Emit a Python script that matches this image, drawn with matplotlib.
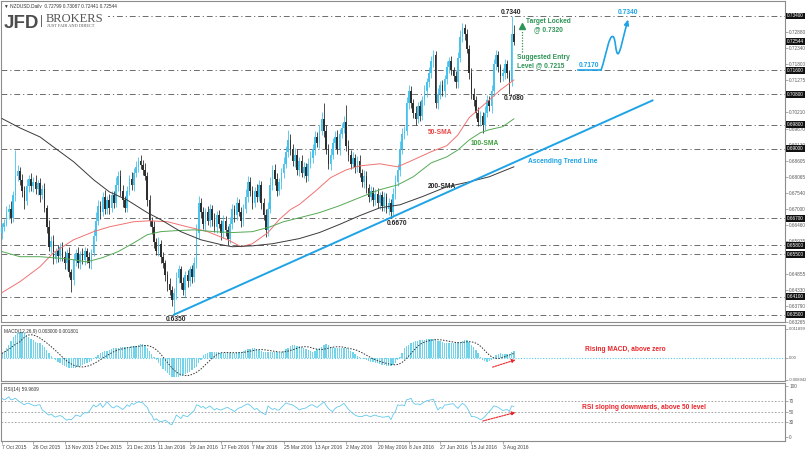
import numpy as np
import pandas as pd
import matplotlib
matplotlib.use("Agg")
import matplotlib.pyplot as plt
from matplotlib.path import Path
from matplotlib.patches import PathPatch, Rectangle
import matplotlib.transforms as mtransforms

plt.rcParams['font.family'] = ['Liberation Sans', 'DejaVu Sans']

# ---------------- data ----------------
date_labels = ["7 Oct 2015", "26 Oct 2015", "13 Nov 2015", "2 Dec 2015", "21 Dec 2015",
               "11 Jan 2016", "29 Jan 2016", "17 Feb 2016", "7 Mar 2016", "25 Mar 2016",
               "13 Apr 2016", "2 May 2016", "20 May 2016", "8 Jun 2016", "27 Jun 2016",
               "15 Jul 2016", "3 Aug 2016"]
label_step = 14  # bars between date labels

# daily closes in pips (x 1e-4), open = previous close
first_open = 6620
close_pips = [
    6640, 6655, 6690, 6700, 6670, 6745, 6810, 6825, 6795, 6760,
    6725, 6775, 6800, 6775, 6790, 6765, 6785, 6745, 6765, 6705,
    6640, 6575, 6595, 6535, 6560, 6545, 6575, 6540, 6520, 6555,
    6490, 6465, 6530, 6555, 6520, 6550, 6530, 6560, 6540, 6520,
    6555, 6610, 6660, 6710, 6690, 6740, 6700, 6730, 6705, 6745,
    6720, 6780, 6810, 6760, 6730, 6705, 6760, 6800, 6780, 6820,
    6840, 6860, 6845, 6830, 6810, 6730, 6660, 6640, 6590, 6560,
    6585, 6540, 6520, 6480, 6450, 6430, 6400, 6420, 6470, 6500,
    6455, 6430, 6480, 6460, 6500, 6475, 6520, 6620, 6720, 6690,
    6650, 6690, 6660, 6700, 6665, 6640, 6680, 6650, 6620, 6660,
    6630, 6600, 6650, 6700, 6680, 6720, 6690, 6660, 6700, 6740,
    6790, 6760, 6720, 6760, 6740, 6780, 6720, 6680, 6630, 6700,
    6780, 6830, 6800, 6760, 6790, 6820, 6850, 6890, 6930, 6900,
    6860, 6880, 6830, 6860, 6820, 6840, 6810, 6850, 6870, 6900,
    6940, 6920, 6960, 7000, 6960, 6900, 6850, 6880, 6920, 6940,
    6900, 6950, 6970, 6990, 6910, 6880, 6850, 6870, 6840, 6860,
    6820, 6790, 6810, 6770, 6740, 6760, 6730, 6750, 6720, 6745,
    6710, 6740, 6700, 6720, 6690, 6750, 6790, 6830, 6900, 6950,
    6960, 7050, 7090, 7050, 7020, 7000, 7040, 7010, 7060, 7090,
    7120, 7150, 7190, 7210, 7050, 7080, 7110, 7090, 7130, 7170,
    7190, 7160, 7140, 7120, 7200, 7270, 7300, 7280, 7230, 7150,
    7080, 7060, 7020, 6990, 7010, 6980, 7020, 7060, 7040, 7090,
    7180, 7210, 7170, 7140, 7150, 7180, 7150, 7125, 7280, 7254,
]
# upper / lower shadows in pips
wick_up = [
    15, 12, 20, 18, 25, 14, 86, 20, 15, 22, 18, 25, 12, 20, 15, 22, 12, 18, 14, 20,
    10, 25, 15, 18, 12, 20, 14, 16, 22, 12, 18, 10, 20, 14, 18, 12, 22, 15, 12, 18,
    14, 25, 30, 20, 18, 15, 22, 12, 20, 16, 14, 25, 15, 18, 20, 12, 16, 14, 22, 15,
    18, 13, 20, 16, 22, 14, 18, 12, 20, 15, 22, 14, 18, 12, 16, 20, 14, 18, 22, 15,
    12, 20, 14, 18, 12, 16, 20, 30, 22, 15, 18, 14, 20, 16, 12, 22, 15, 18, 12, 20,
    16, 14, 22, 18, 15, 20, 12, 16, 18, 25, 20, 15, 18, 12, 22, 16, 14, 18, 20, 22,
    25, 15, 18, 20, 14, 16, 22, 18, 33, 20, 15, 22, 18, 14, 20, 16, 12, 18, 22, 15,
    18, 14, 20, 22, 52, 18, 15, 20, 14, 18, 22, 16, 14, 20, 55, 18, 15, 20, 14, 16,
    18, 14, 20, 15, 12, 18, 14, 16, 20, 12, 15, 18, 12, 16, 14, 20, 22, 18, 25, 20,
    15, 20, 22, 18, 14, 20, 16, 18, 14, 20, 16, 22, 18, 18, 15, 20, 14, 18, 16, 20,
    14, 18, 12, 16, 20, 22, 17, 15, 18, 14, 16, 20, 14, 18, 15, 12, 20, 18, 14, 22,
    18, 16, 14, 12, 16, 18, 14, 12, 60, 29,
]
wick_dn = [
    18, 14, 10, 22, 15, 12, 20, 16, 14, 20, 25, 12, 18, 15, 20, 14, 18, 22, 12, 16,
    20, 15, 22, 18, 14, 20, 16, 12, 18, 22, 14, 39, 16, 20, 14, 18, 12, 16, 20, 15,
    18, 12, 16, 14, 22, 12, 18, 15, 20, 14, 16, 12, 20, 18, 22, 16, 14, 12, 18, 20,
    14, 16, 12, 18, 14, 20, 16, 22, 18, 14, 16, 20, 14, 18, 22, 16, 20, 50, 18, 15,
    20, 16, 22, 18, 14, 20, 16, 14, 18, 20, 16, 22, 14, 18, 20, 16, 18, 14, 22, 16,
    18, 20, 14, 16, 22, 18, 14, 20, 16, 12, 18, 16, 20, 14, 18, 12, 20, 16, 22, 18,
    14, 16, 20, 18, 14, 22, 16, 14, 18, 20, 16, 22, 18, 20, 14, 16, 20, 18, 14, 16,
    20, 14, 18, 16, 22, 18, 16, 20, 14, 18, 16, 20, 14, 18, 16, 22, 18, 14, 20, 16,
    14, 18, 20, 16, 18, 14, 20, 16, 18, 20, 16, 18, 14, 20, 20, 18, 16, 14, 20, 16,
    18, 14, 20, 16, 18, 22, 14, 18, 16, 14, 18, 16, 14, 20, 16, 18, 14, 16, 20, 14,
    18, 16, 14, 20, 18, 14, 16, 20, 14, 18, 16, 20, 18, 14, 16, 27, 18, 14, 16, 20,
    14, 18, 16, 20, 14, 18, 16, 45, 16, 10,
]

# moving averages (bar index, price)
sma50_bar = [0, 8, 17, 23, 32, 41, 48, 59, 66, 74, 83, 92, 101, 107, 112, 119, 124,
             129, 133, 140, 147, 154, 160, 169, 177, 184, 192, 199, 204, 209, 217, 223, 229]
sma50_val = [0.6423, 0.6459, 0.6509, 0.6555, 0.6598, 0.6625, 0.6641, 0.6658, 0.6661,
             0.6658, 0.6641, 0.6625, 0.6598, 0.6575, 0.6585, 0.6622, 0.6665, 0.6698,
             0.6715, 0.6758, 0.6804, 0.6830, 0.6843, 0.6850, 0.6840, 0.6863, 0.6890,
             0.6910, 0.6946, 0.7003, 0.7055, 0.7095, 0.7128]
sma100_bar = [0, 8, 17, 29, 38, 45, 52, 59, 65, 71, 77, 86, 95, 103, 112, 120, 126,
              133, 142, 151, 160, 169, 177, 184, 192, 199, 204, 209, 214, 218, 224, 229]
sma100_val = [0.6559, 0.6542, 0.6542, 0.6535, 0.6525, 0.6539, 0.6559, 0.6588, 0.6615,
              0.6625, 0.6628, 0.6631, 0.6625, 0.6622, 0.6625, 0.6641, 0.6658, 0.6671,
              0.6688, 0.6711, 0.6738, 0.6764, 0.6780, 0.6807, 0.6853, 0.6873, 0.6896,
              0.6929, 0.6953, 0.6963, 0.6973, 0.6999]
sma200_bar = [0, 8, 17, 23, 32, 41, 48, 56, 65, 71, 80, 89, 98, 103, 112, 121, 133,
              142, 151, 160, 169, 178, 188, 199, 209, 218, 229]
sma200_val = [0.7000, 0.6969, 0.6939, 0.6906, 0.6857, 0.6797, 0.6757, 0.6730, 0.6688,
              0.6665, 0.6625, 0.6598, 0.6582, 0.6575, 0.6578, 0.6585, 0.6602, 0.6622,
              0.6649, 0.6678, 0.6704, 0.6714, 0.6741, 0.6774, 0.6790, 0.6807, 0.6840]

trend_bar = [77, 291]
trend_val = [0.6350, 0.7060]

levels = [0.7340, 0.7160, 0.7080, 0.6980, 0.6900, 0.6670, 0.6580, 0.6550, 0.6410, 0.6350]
scale_ticks = [0.72880, 0.72340, 0.71800, 0.71275, 0.70210, 0.69670, 0.69130, 0.68605,
               0.68065, 0.67540, 0.67000, 0.66460, 0.65935, 0.64855, 0.64330, 0.63790, 0.63265]
last_price = 0.72544

# MACD main line (x 1e-4), drawn as histogram
macd_hist = [
    19, 29, 39, 55, 70, 85, 95, 101, 106, 108, 104,
    94, 87, 80, 72, 67, 63, 60, 52, 44, 32,
    19, 10, 0, -8, -15, -22, -27, -31, -36, -40,
    -42, -42, -40, -36, -33, -29, -25, -20, -15, -11,
    -3, 5, 12, 22, 26, 28, 30, 33, 36, 39,
    41, 43, 46, 46, 46, 46, 47, 48, 49, 51,
    54, 57, 57, 52, 42, 30, 18, 5, -8, -20,
    -32, -44, -55, -63, -70, -76, -79, -79, -76, -72,
    -68, -66, -63, -56, -49, -42, -36, -20, -8, 12,
    16, 20, 23, 24, 25, 26, 24, 22, 21, 20,
    19, 20, 21, 22, 24, 25, 26, 30, 33, 36,
    38, 39, 39, 36, 33, 28, 25, 23, 24, 25,
    26, 25, 23, 22, 26, 30, 36, 42, 48, 53,
    52, 50, 49, 45, 42, 38, 33, 28, 26, 30,
    35, 39, 45, 52, 57, 52, 46, 44, 41, 39,
    39, 39, 40, 39, 36, 30, 26, 18, 8, 3,
    -1, -5, -9, -12, -15, -18, -20, -22, -24, -27,
    -29, -31, -32, -33, -30, -22, -10, 5, 22, 39,
    48, 55, 60, 64, 68, 71, 72, 74, 75, 76,
    76, 78, 80, 76, 71, 68, 64, 60, 60, 61,
    62, 63, 64, 65, 67, 70, 74, 72, 67, 55,
    44, 33, 20, 5, -8, -12, -15, -12, -8, 2,
    12, 16, 19, 18, 17, 16, 16, 26, 30,
]
rsi_vals = [
    76, 73, 75, 79, 73, 74, 76, 72, 69, 66, 63,
    66, 66, 64, 62, 61, 63, 63, 53, 50, 46,
    43, 45, 41, 39, 41, 42, 40, 36, 33, 35,
    34, 38, 43, 42, 40, 45, 48, 47, 50, 57,
    63, 59, 62, 66, 58, 63, 69, 64, 59, 57,
    61, 60, 57, 54, 58, 63, 60, 66, 64, 67,
    69, 68, 67, 62, 58, 48, 43, 33, 36, 32,
    30, 31, 33, 30, 26, 24, 33, 43, 40, 36,
    43, 41, 40, 44, 48, 52, 63, 62, 58, 60,
    56, 58, 61, 57, 53, 56, 54, 53, 55, 57,
    58, 55, 53, 50, 54, 57, 58, 61, 63, 65,
    62, 58, 54, 56, 52, 48, 46, 44, 61, 57,
    54, 56, 53, 53, 58, 62, 67, 65, 64, 63,
    60, 57, 53, 55, 56, 57, 60, 63, 63, 60,
    58, 62, 65, 69, 62, 56, 52, 50, 56, 59,
    60, 63, 66, 60, 54, 50, 46, 43, 41, 40,
    40, 42, 43, 41, 40, 42, 43, 41, 40, 39,
    39, 40, 41, 34, 44, 50, 63, 62, 63, 61,
    73, 74, 76, 67, 64, 65, 63, 66, 69, 71,
    72, 73, 74, 63, 53, 58, 56, 63, 63, 64,
    65, 65, 60, 56, 62, 66, 63, 58, 50, 40,
    40, 39, 37, 34, 36, 40, 45, 50, 55, 61,
    60, 58, 55, 52, 53, 54, 50, 61, 60,
]

# ---------------- figure ----------------
W, H = 806, 451
fig = plt.figure(figsize=(W / 100, H / 100), dpi=100)


def panel(top, bottom, left=1, right=785):
    return [left / W, 1 - bottom / H, (right - left) / W, (bottom - top) / H]


ax = fig.add_axes(panel(1, 322))
axm = fig.add_axes(panel(325, 381), sharex=ax)
axr = fig.add_axes(panel(383, 441), sharex=ax)

for a in (ax, axm, axr):
    for s in a.spines.values():
        s.set_color('#8c8c8c')
        s.set_linewidth(0.8)
    a.yaxis.tick_right()
    a.tick_params(axis='y', length=2, width=0.5, colors='#8c8c8c',
                  labelsize=3.4, labelcolor='#5a5a5a', pad=1)
    a.tick_params(axis='x', bottom=False, labelbottom=False)

ax.set_xlim(-0.45, 350.3)
ax.set_ylim(0.63255, 0.73897)

# candles
c = np.array(close_pips) / 1e4
o = np.concatenate([[first_open / 1e4], c[:-1]])
hi = np.maximum(o, c) + np.array(wick_up) / 1e4
lo = np.minimum(o, c) - np.array(wick_dn) / 1e4
x = np.arange(len(c))
up = c >= o
bull, bear = '#47c2ec', '#2e2e2e'
body = np.maximum(np.abs(c - o), 0.0002)
ax.vlines(x[up], lo[up], hi[up], color=bull, lw=0.6, zorder=3)
ax.vlines(x[~up], lo[~up], hi[~up], color=bear, lw=0.6, zorder=3)
ax.bar(x[up], body[up], bottom=o[up], width=0.75, color=bull, lw=0, zorder=3)
ax.bar(x[~up], body[~up], bottom=c[~up], width=0.75, color=bear, lw=0, zorder=3)

# support / resistance levels
for lv in levels:
    ax.axhline(lv, color='#6b6b6b', lw=0.7, ls=(0, (6, 3, 1.2, 3)), zorder=1)

# moving averages and trend line
ax.plot(sma50_bar, sma50_val, color='#f07272', lw=0.7, zorder=4)
ax.plot(sma100_bar, sma100_val, color='#55a955', lw=0.7, zorder=4)
ax.plot(sma200_bar, sma200_val, color='#3a3a3a', lw=0.7, zorder=4)
ax.plot(trend_bar, trend_val, color='#1ea3e6', lw=1.4, zorder=5)

# right price scale
ax.set_yticks(scale_ticks)
ax.set_yticklabels([f'{v:.5f}' for v in scale_ticks])
trans = mtransforms.blended_transform_factory(ax.transAxes, ax.transData)
for lv in levels + [last_price]:
    ax.text(1.003, lv, f'{lv:.5f}', transform=trans, fontsize=3.4, color='white',
            va='center', ha='left', clip_on=False, zorder=10,
            bbox=dict(boxstyle='square,pad=0.2', fc='#111111', ec='none'))

# chart annotations
bold = dict(fontsize=4.8, fontweight='bold')
ax.text(77.8, 0.6334, '0.6350', ha='center', va='center', color='#222', **bold)
ax.text(176.7, 0.6651, '0.6670', ha='center', va='center', color='#222', **bold)
ax.text(229, 0.7065, '0.7080', ha='center', va='center', color='#222', **bold)
ax.text(227.7, 0.7352, '0.7340', ha='center', va='center', color='#222', **bold)
ax.text(196, 0.6953, '50-SMA', ha='center', va='center', color='#e84545', **bold)
ax.text(216, 0.6916, '100-SMA', ha='center', va='center', color='#3f9f3f', **bold)
ax.text(197, 0.6774, '200-SMA', ha='center', va='center', color='#222', **bold)
ax.text(235.3, 0.6857, 'Ascending Trend Line', ha='left', va='center', color='#1ea3e6', **bold)

green = '#2e9457'
ax.text(234.5, 0.7307, 'Target Locked\n@ 0.7320', ha='left', va='center', color=green,
        multialignment='center', linespacing=1.25, **bold)
ax.text(230.4, 0.7190, 'Suggested Entry\nLevel @ 0.7215', ha='left', va='center', color=green,
        multialignment='left', linespacing=1.25, **bold)
ax.plot([232.7, 232.7], [0.7220, 0.7292], color=green, lw=0.9, ls=(0, (1, 1.2)), zorder=6)
ax.plot([232.7], [0.7306], marker='^', ms=4, color=green, mec=green, zorder=6)

# projected path
blue = '#1ea3e6'
ax.plot([257.7, 268], [0.7160, 0.7160], color=blue, lw=1.2, zorder=6)
ax.text(258.2, 0.7163, '0.7170', ha='left', va='bottom', color=blue, **bold)
verts = [(268, 0.7160), (270.5, 0.7215), (271.5, 0.7276), (273.3, 0.7272),
         (274.6, 0.7269), (274.4, 0.7214), (275.6, 0.7215),
         (276.6, 0.7216), (278.2, 0.7280), (279.7, 0.7318)]
codes = [Path.MOVETO] + [Path.CURVE4] * 9
ax.add_patch(PathPatch(Path(verts, codes), fc='none', ec=blue, lw=1.2, zorder=6))
ax.annotate('', xy=(280.4, 0.7336), xytext=(279.5, 0.7312),
            arrowprops=dict(arrowstyle='-|>', color=blue, lw=1.2, mutation_scale=7))
ax.text(279.9, 0.7352, '0.7340', ha='center', va='center', color=blue, **bold)

ax.text(0.004, 0.99, '\u25bc NZDUSD,Daily  0.72799 0.73087 0.72441 0.72544',
        transform=ax.transAxes, fontsize=3.4, color='#333', va='top', ha='left')

# logo
fig.add_artist(Rectangle((2 / W, 1 - 31 / H), 106 / W, 23 / H, transform=fig.transFigure,
                         fc='white', ec='none', zorder=5))
fig.text(4 / W, 1 - 27.5 / H, 'JFD', fontsize=13.5, fontweight='bold', color='#4d4d4d',
         ha='left', va='baseline', zorder=6)
fig.add_artist(Rectangle((41 / W, 1 - 27 / H), 0.8 / W, 12 / H, transform=fig.transFigure,
                         fc='#666', ec='none', zorder=6))
fig.text(46 / W, 1 - 21.5 / H, 'BROKERS', fontsize=9, family='Liberation Serif',
         color='#555', ha='left', va='baseline', zorder=6)
fig.text(47 / W, 1 - 27 / H, 'JUST FAIR AND DIRECT', fontsize=3.2, family='Liberation Serif',
         color='#555', ha='left', va='baseline', zorder=6)

# MACD panel
macd = np.array(macd_hist) / 1e4
signal = pd.Series(macd).rolling(9, min_periods=1).mean()
axm.axhline(0, color='#55c8e8', lw=0.8, ls=(0, (1, 1.5)), zorder=1)
axm.bar(x, macd, width=0.6, color='#72d4ea', lw=0, zorder=2)
axm.plot(x, signal, color='#333', lw=0.7, ls=(0, (1.5, 1.5)), zorder=3)
axm.set_ylim(-0.00944, 0.01354)
axm.set_yticks([0.011899, 0.0, -0.008942])
axm.set_yticklabels(['0.011899', '0.00', '-0.008942'])
axm.tick_params(axis='y', labelsize=3.0, pad=0.5)
axm.text(0.004, 0.93, 'MACD(12,26,9) 0.003000 0.001801', transform=axm.transAxes,
         fontsize=3.4, color='#333', va='top', ha='left')
red = '#e8262b'
axm.annotate('', xy=(230.9, -0.0004), xytext=(218.3, -0.0041),
             arrowprops=dict(arrowstyle='-|>', color=red, lw=0.8, ls=(0, (1.5, 1)),
                             mutation_scale=5))
axm.text(260.9, 0.0033, 'Rising MACD, above zero', ha='left', va='center', color=red, **bold)

# RSI panel
for lv in (70, 50, 30):
    axr.axhline(lv, color='#9a9a9a', lw=0.6, ls=(0, (2, 2)), zorder=1)
axr.plot(x, rsi_vals, color='#62c8ee', lw=0.6, zorder=3)
axr.set_ylim(-7.8, 105.9)
axr.set_yticks([100, 70, 50, 30, 0])
axr.text(0.004, 0.93, 'RSI(14) 59.9609', transform=axr.transAxes,
         fontsize=3.4, color='#333', va='top', ha='left')
axr.annotate('', xy=(230.9, 49.6), xytext=(213.9, 30),
             arrowprops=dict(arrowstyle='-|>', color=red, lw=0.8, ls=(0, (1.5, 1)),
                             mutation_scale=5))
axr.text(259.5, 57, 'RSI sloping downwards, above 50 level', ha='left', va='center',
         color=red, **bold)

# date axis
axr.set_xticks(np.arange(len(date_labels)) * label_step)
axr.set_xticklabels(date_labels, ha='left')
axr.tick_params(axis='x', bottom=True, labelbottom=True, length=2, width=0.5,
                colors='#8c8c8c', labelcolor='#444', labelsize=3.6, pad=1)
ax.tick_params(axis='x', bottom=False, labelbottom=False)
axm.tick_params(axis='x', bottom=False, labelbottom=False)

fig.savefig('out.png', dpi=100, facecolor='white')
